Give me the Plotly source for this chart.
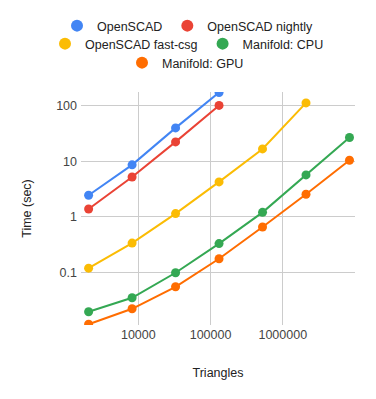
import plotly.graph_objects as go

triangles = [2048, 8192, 32768, 131072, 524288, 2097152, 8388608]
openscad = [2.45, 8.6, 39.6, 171]
openscad_nightly = [1.39, 5.2, 22.2, 100]
fast_csg = [0.121, 0.34, 1.15, 4.25, 16.6, 111]
manifold_cpu = [0.020, 0.0356, 0.1, 0.333, 1.21, 5.68, 26.6]
manifold_gpu = [0.0119, 0.0226, 0.056, 0.178, 0.66, 2.56, 10.4]

series = [
    ("OpenSCAD", openscad, "#4285F4", "legend"),
    ("OpenSCAD nightly", openscad_nightly, "#EA4335", "legend"),
    ("OpenSCAD fast-csg", fast_csg, "#FBBC04", "legend2"),
    ("Manifold: CPU", manifold_cpu, "#34A853", "legend2"),
    ("Manifold: GPU", manifold_gpu, "#FF6D01", "legend3"),
]

x_tickvals = [1e4, 1e5, 1e6, 1e7]
x_ticktext = ["10000", "100000", "1000000", ""]
y_tickvals = [0.1, 1, 10, 100]
y_ticktext = ["0.1", "1", "10", "100"]

fig = go.Figure()
for name, vals, color, leg in series:
    fig.add_trace(go.Scatter(
        x=triangles[:len(vals)], y=vals, name=name, mode="lines+markers",
        line=dict(color=color, width=2),
        marker=dict(color=color, size=9),
        showlegend=False, cliponaxis=True,
    ))
    # legend entry (marker only, like the reference legend dots)
    fig.add_trace(go.Scatter(
        x=[None], y=[None], name=name, mode="markers",
        marker=dict(color=color, size=12),
        legend=leg, showlegend=True,
    ))

# page offset (default body margin of the html page)
OFF = 8
W, H = 376, 399
# plot area in page pixels
PLOT_TOP, PLOT_BOTTOM, PLOT_LEFT, PLOT_RIGHT = 92, 325, 81, 355
ph = PLOT_BOTTOM - PLOT_TOP
pw = PLOT_RIGHT - PLOT_LEFT


def py(y_px):
    return (PLOT_BOTTOM - y_px) / ph


def px(x_px):
    return (x_px - PLOT_LEFT) / pw


font = dict(family="Liberation Sans, Arial, sans-serif", size=12.5, color="#222222")
legcommon = dict(orientation="h", xanchor="left", yanchor="middle",
                 font=font, bgcolor="rgba(0,0,0,0)", itemsizing="constant",
                 itemwidth=30, traceorder="normal")

fig.update_layout(
    width=W - OFF, height=H - OFF,
    margin=dict(l=PLOT_LEFT - OFF, r=W - PLOT_RIGHT, t=PLOT_TOP - OFF, b=H - PLOT_BOTTOM,
                autoexpand=False),
    paper_bgcolor="white", plot_bgcolor="white",
    font=font,
    legend=dict(y=py(26), x=px(77 - 20), **legcommon),
    legend2=dict(y=py(44), x=px(65 - 20), **legcommon),
    legend3=dict(y=py(63), x=px(142 - 20), **legcommon),
    xaxis=dict(type="log", range=[3.206, 7.0], tickvals=x_tickvals, ticktext=x_ticktext,
               showgrid=True, gridcolor="#cccccc", gridwidth=1, zeroline=False,
               showline=False, ticks="", tickfont=dict(size=12.5, color="#444444"),
               title=dict(text="Triangles", font=dict(size=12.5, color="#222222"), standoff=27)),
    yaxis=dict(type="log", range=[-1.937, 2.241], tickvals=y_tickvals, ticktext=y_ticktext,
               showgrid=True, gridcolor="#cccccc", gridwidth=1, zeroline=False,
               showline=False, ticks="", ticklabelstandoff=3,
               tickfont=dict(size=12.5, color="#444444"),
               title=dict(text="Time (sec)", font=dict(size=12.5, color="#222222"), standoff=21)),
)

fig.write_html("out.html")
